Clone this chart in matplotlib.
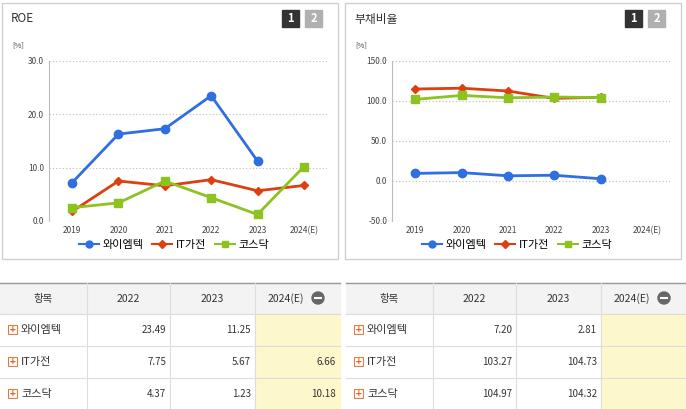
import matplotlib
matplotlib.use("Agg")
import matplotlib.pyplot as plt
from matplotlib import font_manager as fm
from matplotlib.patches import Rectangle
from matplotlib.lines import Line2D

cands = ["Noto Sans CJK KR", "Noto Sans CJK JP", "Noto Sans CJK SC", "Noto Sans CJK TC"]
avail = {f.name for f in fm.fontManager.ttflist}
fams = [c for c in cands if c in avail] + ["DejaVu Sans"]
plt.rcParams["font.family"] = fams

years = ["2019", "2020", "2021", "2022", "2023", "2024(E)"]
series_names = ["와이엠텍", "IT가전", "코스닥"]
roe_ymt = [7.2, 16.3, 17.3, 23.49, 11.25, None]
roe_it = [1.8, 7.5, 6.6, 7.75, 5.67, 6.66]
roe_kq = [2.5, 3.4, 7.5, 4.37, 1.23, 10.18]
debt_ymt = [9.5, 10.5, 6.5, 7.20, 2.81, None]
debt_it = [115.0, 116.0, 112.5, 103.27, 104.73, None]
debt_kq = [102.0, 107.0, 104.0, 104.97, 104.32, None]
table_cols = ["항목", "2022", "2023", "2024(E)"]
roe_table = [["23.49", "11.25", ""], ["7.75", "5.67", "6.66"], ["4.37", "1.23", "10.18"]]
debt_table = [["7.20", "2.81", ""], ["103.27", "104.73", ""], ["104.97", "104.32", ""]]

colors = ["#2f6fe0", "#dd3f10", "#8cc320"]
markers = ["o", "D", "s"]
W, H = 686, 409
fig = plt.figure(figsize=(W/100, H/100), dpi=100)
ov = fig.add_axes([0, 0, 1, 1])
ov.set_xlim(0, W); ov.set_ylim(H, 0); ov.axis("off")

def fa(x0, y0, x1, y1):
    return [x0/W, 1-y1/H, (x1-x0)/W, (y1-y0)/H]

def panel(x0, title, data, yl, yticks, fmt):
    ov.add_patch(Rectangle((x0+2, 3), 336, 256, fill=False, ec="#cfcfcf", lw=1))
    ov.text(x0+11, 19, title, fontsize=8.5, va="center", color="#333")
    for i, (lab, c) in enumerate([("1", "#333333"), ("2", "#b0b0b0")]):
        ov.add_patch(Rectangle((x0+282+i*23, 10), 17, 17, color=c))
        ov.text(x0+290.5+i*23, 18.5, lab, color="white", fontsize=8, fontweight="bold", ha="center", va="center")
    ov.text(x0+12, 47, "[%]", fontsize=5.5, color="#444")
    ax = fig.add_axes(fa(x0+49, 61, x0+327, 221))
    xs = range(len(years))
    for vals, c, m in zip(data, colors, markers):
        pts = [(x, v) for x, v in zip(xs, vals) if v is not None]
        ax.plot([p[0] for p in pts], [p[1] for p in pts], color=c, marker=m, ms=6 if m != "D" else 4.5, lw=2)
    ax.set_xlim(-0.5, 5.5); ax.set_ylim(*yl)
    ax.set_yticks(yticks); ax.set_yticklabels([fmt.format(t) for t in yticks])
    ax.set_xticks(list(xs)); ax.set_xticklabels(years)
    ax.tick_params(labelsize=6, length=0, colors="#444")
    ax.grid(axis="y", ls=(0, (1, 2)), color="#bbbbbb", lw=0.8)
    for s in ["top", "right", "bottom"]:
        ax.spines[s].set_visible(False)
    ax.spines["left"].set_color("#bbbbbb")
    handles = [Line2D([], [], color=c, marker=m, lw=1.5, ms=5 if m != "D" else 4) for c, m in zip(colors, markers)]
    ax.legend(handles, series_names, loc="center", bbox_to_anchor=(0.45, -0.15), ncol=3, frameon=False,
              fontsize=8, handlelength=1.8, columnspacing=0.8, handletextpad=0.3)

def table(x0, rows):
    edges = [x0+0, x0+87, x0+170, x0+255, x0+340]
    ys = [283, 314, 346, 378, 410]
    ov.add_patch(Rectangle((x0, ys[0]), 340, ys[1]-ys[0], color="#f3f3f3"))
    for r in range(3):
        ov.add_patch(Rectangle((edges[3], ys[r+1]), 85, 32, color="#fdf7cc"))
    ov.plot([x0, x0+340], [ys[0], ys[0]], color="#999", lw=1)
    for y in ys[1:]:
        ov.plot([x0, x0+340], [y, y], color="#dddddd", lw=0.8)
    for e in edges[1:-1]:
        ov.plot([e, e], [ys[0], ys[-1]], color="#dddddd", lw=0.8)
    for i, t in enumerate(table_cols):
        xc = (edges[i]+edges[i+1])/2 - (12 if i == 3 else 0)
        ov.text(xc, (ys[0]+ys[1])/2, t, ha="center", va="center", fontsize=7.5, color="#333")
    ov.add_patch(plt.Circle((edges[3]+63, 298), 6, color="#666"))
    ov.plot([edges[3]+60, edges[3]+66], [298, 298], color="white", lw=1.5)
    for r, name in enumerate(series_names):
        yc = (ys[r+1]+ys[r+2])/2
        ov.add_patch(Rectangle((x0+8, yc-5), 9, 9, fc="white", ec="#e08040", lw=0.8))
        ov.text(x0+12.5, yc-0.5, "+", color="#e06020", fontsize=7, ha="center", va="center", fontweight="bold")
        ov.text(x0+21, yc, name, fontsize=8, va="center", color="#333")
        for c in range(3):
            ov.text(edges[c+2]-4, yc, rows[r][c], ha="right", va="center", fontsize=7, color="#333")

panel(0, "ROE", [roe_ymt, roe_it, roe_kq], (0, 30), [0, 10, 20, 30], "{:.1f}")
panel(343, "부채비율", [debt_ymt, debt_it, debt_kq], (-50, 150), [-50, 0, 50, 100, 150], "{:.1f}")
table(0, roe_table)
table(346, debt_table)
fig.savefig("out.png", dpi=100)
